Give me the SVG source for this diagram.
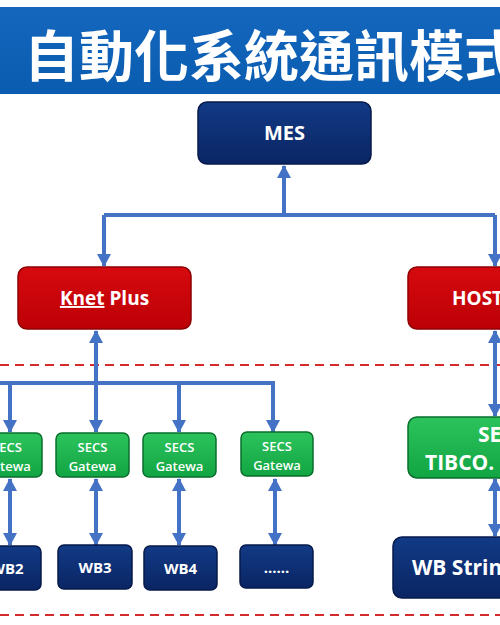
<svg xmlns="http://www.w3.org/2000/svg" width="500" height="625" viewBox="0 0 500 625">
<defs>
<linearGradient id="tg" x1="0" y1="0" x2="0" y2="1">
<stop offset="0" stop-color="#1467bd"/>
<stop offset="1" stop-color="#0a5cb0"/>
</linearGradient>
<linearGradient id="gNavy" x1="0" y1="0" x2="0" y2="1">
<stop offset="0" stop-color="#123a86"/>
<stop offset="1" stop-color="#0a2563"/>
</linearGradient>
<linearGradient id="gRed" x1="0" y1="0" x2="0" y2="1">
<stop offset="0" stop-color="#d60a0e"/>
<stop offset="1" stop-color="#bc0006"/>
</linearGradient>
<linearGradient id="gGreen" x1="0" y1="0" x2="0" y2="1">
<stop offset="0" stop-color="#2cc35c"/>
<stop offset="1" stop-color="#12a543"/>
</linearGradient>
<marker id="ah" markerUnits="userSpaceOnUse" markerWidth="14" markerHeight="14" viewBox="0 0 14 14" refX="12" refY="7" orient="auto-start-reverse">
<path d="M0,0 L13,7 L0,14 Z" fill="#4472c4"/>
</marker>
<style>
.c{fill:none;stroke:#4472c4;stroke-width:4}
.dash{fill:none;stroke:#d42a2a;stroke-width:2;stroke-dasharray:9 6}
.navy{fill:url(#gNavy);stroke:#061a4a;stroke-width:1.5}
.red{fill:url(#gRed);stroke:#8e0004;stroke-width:1.5}
.green{fill:url(#gGreen);stroke:#0a6e2c;stroke-width:1.5}
.t{font-family:"Open Sans","Noto Sans","Liberation Sans",sans-serif;font-weight:bold;fill:#ffffff;text-anchor:middle}
.s{font-size:13px;font-weight:600}
.w{font-size:15px}
.l{font-size:19px}
</style>
</defs>
<rect x="0" y="0" width="500" height="625" fill="#ffffff"/>
<g id="title">
<rect x="0" y="7" width="500" height="87" fill="url(#tg)"/>
<text x="24" y="76" font-family="'Noto Sans CJK TC','Noto Sans CJK SC',sans-serif" font-weight="bold" font-size="55" fill="#ffffff">自動化系統通訊模式</text>
</g>
<g id="dashes">
<line class="dash" x1="0" y1="365" x2="500" y2="365"/>
<line class="dash" x1="0" y1="615" x2="500" y2="615"/>
</g>
<g id="connectors">
<path class="c" d="M284,215 V166" marker-end="url(#ah)"/>
<path class="c" d="M104,215 H495"/>
<path class="c" d="M104,215 V266" marker-end="url(#ah)"/>
<path class="c" d="M495,215 V266" marker-end="url(#ah)"/>
<path class="c" d="M96,383 V331" marker-end="url(#ah)"/>
<path class="c" d="M0,383 H275"/>
<path class="c" d="M10,383 V432" marker-end="url(#ah)"/>
<path class="c" d="M96,383 V432" marker-end="url(#ah)"/>
<path class="c" d="M179,383 V432" marker-end="url(#ah)"/>
<path class="c" d="M273,381 V432" marker-end="url(#ah)"/>
<path class="c" d="M10,479 V545" marker-start="url(#ah)" marker-end="url(#ah)"/>
<path class="c" d="M96,479 V545" marker-start="url(#ah)" marker-end="url(#ah)"/>
<path class="c" d="M179,479 V545" marker-start="url(#ah)" marker-end="url(#ah)"/>
<path class="c" d="M275,479 V545" marker-start="url(#ah)" marker-end="url(#ah)"/>
<path class="c" d="M495,331 V416" marker-start="url(#ah)" marker-end="url(#ah)"/>
<path class="c" d="M495,479 V536" marker-start="url(#ah)" marker-end="url(#ah)"/>
</g>
<g id="mes">
<rect class="navy" x="198" y="102" width="173" height="62" rx="9"/>
<text class="t" x="284.5" y="140" font-size="20">MES</text>
</g>
<g id="knet">
<rect class="red" x="18" y="267" width="173" height="62" rx="9"/>
<text class="t l" x="104.5" y="305"><tspan text-decoration="underline">Knet</tspan> Plus</text>
</g>
<g id="host">
<rect class="red" x="408" y="267" width="173" height="62" rx="9"/>
<text class="t l" x="452" y="305" style="text-anchor:start">HOST</text>
</g>
<g id="secs1">
<rect class="green" x="-28" y="433" width="70" height="44" rx="6"/>
<text class="t s" x="7" y="452">SECS</text>
<text class="t s" x="7" y="471">Gatewa</text>
</g>
<g id="secs2">
<rect class="green" x="56" y="433" width="73" height="44" rx="6"/>
<text class="t s" x="92.5" y="452">SECS</text>
<text class="t s" x="92.5" y="471">Gatewa</text>
</g>
<g id="secs3">
<rect class="green" x="143" y="433" width="73" height="44" rx="6"/>
<text class="t s" x="179.5" y="452">SECS</text>
<text class="t s" x="179.5" y="471">Gatewa</text>
</g>
<g id="secs4">
<rect class="green" x="241" y="432" width="72" height="44" rx="6"/>
<text class="t s" x="277" y="451">SECS</text>
<text class="t s" x="277" y="470">Gatewa</text>
</g>
<g id="secsTibco">
<rect class="green" x="408" y="417" width="190" height="61" rx="9"/>
<text class="t" x="478" y="442" font-size="21" style="text-anchor:start">SECS</text>
<text class="t" x="425" y="470" font-size="21" style="text-anchor:start">TIBCO.</text>
</g>
<g id="wb2">
<rect class="navy" x="-28" y="546" width="69" height="44" rx="6"/>
<text class="t w" x="7" y="574">WB2</text>
</g>
<g id="wb3">
<rect class="navy" x="58" y="545" width="74" height="44" rx="6"/>
<text class="t w" x="95" y="573">WB3</text>
</g>
<g id="wb4">
<rect class="navy" x="144" y="546" width="73" height="44" rx="6"/>
<text class="t w" x="180.5" y="574">WB4</text>
</g>
<g id="wbMore">
<rect class="navy" x="240" y="545" width="73" height="43" rx="6"/>
<text class="t w" x="276.5" y="573">......</text>
</g>
<g id="wbString">
<rect class="navy" x="393" y="537" width="190" height="61" rx="9"/>
<text class="t" x="412" y="575" font-size="21" style="text-anchor:start">WB String</text>
</g>
</svg>
